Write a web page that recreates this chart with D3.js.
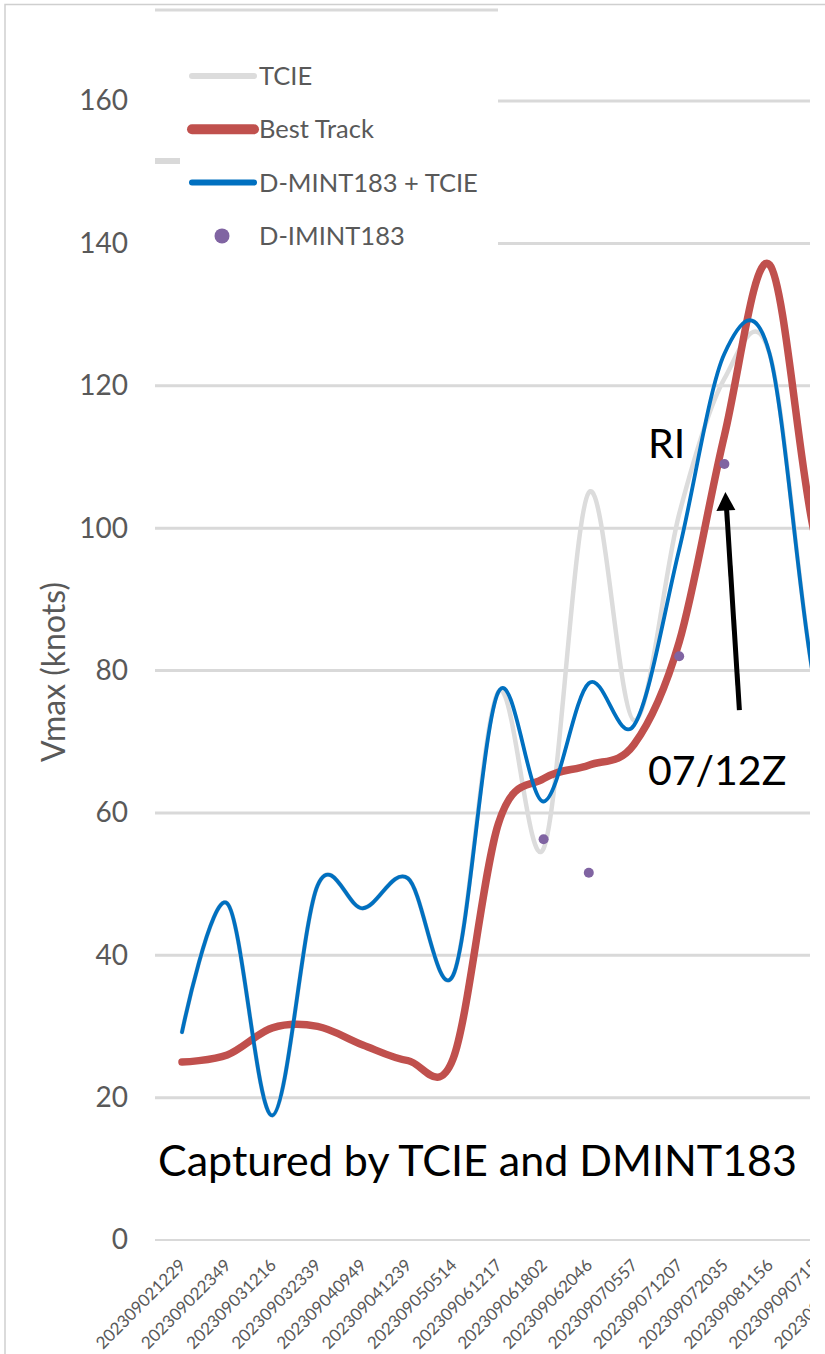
<!DOCTYPE html>
<html>
<head>
<meta charset="utf-8">
<script src="https://cdn.jsdelivr.net/npm/d3@7"></script>
<style>
  body { margin: 0; background: #fff; }
  svg { display: block; }
</style>
</head>
<body>
<svg id="chart" width="825" height="1354"></svg>
<script>
// Fix times (YYYYMMDDHHMM)
const categories = [
  "202309021229", "202309022349", "202309031216", "202309032339",
  "202309040949", "202309041239", "202309050514", "202309061217",
  "202309061802", "202309062046", "202309070557", "202309071207",
  "202309072035", "202309081156", "202309090715", "202309091910"
];

// Maximum sustained wind (knots)
const tcie      = [29.2, 47.3, 17.5, 49.8, 46.6, 50.8, 37.2, 77.0, 55.0, 105.0, 73.0, 102.0, 121.0, 124.5, 78.0, 62.0];
const bestTrack = [25.0, 26.0, 29.8, 30.0, 27.4, 25.2, 25.5, 58.5, 64.8, 66.7, 69.6, 84.0, 113.0, 137.0, 99.0, 85.0];
const dmintTcie = [29.2, 47.3, 17.5, 49.8, 46.6, 50.8, 37.2, 77.0, 61.6, 78.2, 72.3, 97.0, 124.5, 124.5, 78.0, 62.0];
const dimint    = [null, null, null, null, null, null, null, null, 56.3, 51.6, null, 82.0, 109.0, null, null, null];

const yTicks = [0, 20, 40, 60, 80, 100, 120, 140, 160];

const legendItems = [
  { name: "TCIE",             kind: "line", color: "#dcdcdc", width: 6 },
  { name: "Best Track",       kind: "line", color: "#c0504d", width: 10 },
  { name: "D-MINT183 + TCIE", kind: "line", color: "#0070c0", width: 6 },
  { name: "D-IMINT183",       kind: "dot",  color: "#8064a2" }
];

const FONT = "Lato, 'Open Sans', 'DejaVu Sans', sans-serif";
const TEXT_GREY = "#595959";
const GRID = "#d9d9d9";

const svg = d3.select("#chart");
svg.append("rect").attr("width", 825).attr("height", 1354).attr("fill", "#fff");

// Visible frame: the panel is cut off on the right
const clipRight = 810;
const plotLeft = 155;
svg.append("defs").append("clipPath").attr("id", "clip")
  .append("rect").attr("x", 0).attr("y", 0).attr("width", clipRight).attr("height", 1354);

const step = 45.2;
const x = d3.scalePoint()
  .domain(categories)
  .range([159.4, 159.4 + categories.length * step])
  .padding(0.5);

const y = d3.scaleLinear().domain([0, 160]).range([1240, 101]);

const plot = svg.append("g").attr("clip-path", "url(#clip)");

// Horizontal gridlines
plot.append("g")
  .selectAll("line")
  .data(yTicks)
  .join("line")
  .attr("x1", plotLeft)
  .attr("x2", clipRight + 20)
  .attr("y1", d => y(d))
  .attr("y2", d => y(d))
  .attr("stroke", GRID)
  .attr("stroke-width", d => d === 0 ? 2 : 3);

// Y axis tick labels
const yAxis = svg.append("g")
  .attr("transform", `translate(${plotLeft},0)`)
  .call(d3.axisLeft(y).tickValues(yTicks).tickSize(0).tickPadding(27));
yAxis.select(".domain").remove();
yAxis.selectAll("text")
  .attr("font-family", FONT)
  .attr("font-size", 28)
  .attr("fill", TEXT_GREY);

// Y axis title
svg.append("text")
  .attr("transform", `translate(65,672) rotate(-90)`)
  .attr("text-anchor", "middle")
  .attr("font-family", FONT)
  .attr("font-size", 32)
  .attr("fill", TEXT_GREY)
  .text("Vmax (knots)");

// X axis category labels (rotated)
const xAxis = plot.append("g")
  .attr("transform", `translate(0,${y(0)})`)
  .call(d3.axisBottom(x).tickSize(0));
xAxis.select(".domain").remove();
xAxis.selectAll("text")
  .attr("font-family", FONT)
  .attr("font-size", 17)
  .attr("fill", TEXT_GREY)
  .attr("text-anchor", "end")
  .attr("x", 0)
  .attr("y", 0)
  .attr("dy", "0.35em")
  .attr("transform", "translate(0,22) rotate(-45)");

// Series lines (smoothed)
const line = d3.line()
  .defined(d => d[1] != null)
  .x(d => x(d[0]))
  .y(d => y(d[1]))
  .curve(d3.curveCardinal);

const pairs = vals => categories.map((c, i) => [c, vals[i]]);

plot.append("path")
  .attr("d", line(pairs(tcie)))
  .attr("fill", "none")
  .attr("stroke", "#dcdcdc")
  .attr("stroke-width", 4.5)
  .attr("stroke-linecap", "round");

plot.append("path")
  .attr("d", line(pairs(bestTrack)))
  .attr("fill", "none")
  .attr("stroke", "#c0504d")
  .attr("stroke-width", 7.5)
  .attr("stroke-linecap", "round");

plot.append("path")
  .attr("d", line(pairs(dmintTcie)))
  .attr("fill", "none")
  .attr("stroke", "#0070c0")
  .attr("stroke-width", 3.8)
  .attr("stroke-linecap", "round");

plot.append("g")
  .selectAll("circle")
  .data(pairs(dimint).filter(d => d[1] != null))
  .join("circle")
  .attr("cx", d => x(d[0]))
  .attr("cy", d => y(d[1]))
  .attr("r", 5)
  .attr("fill", "#8064a2");

// Legend panel
const legend = svg.append("g");
legend.append("rect")
  .attr("x", 150).attr("y", 18).attr("width", 348).attr("height", 246)
  .attr("fill", "#fff");
legend.append("line")
  .attr("x1", plotLeft).attr("x2", 498).attr("y1", 10).attr("y2", 10)
  .attr("stroke", GRID).attr("stroke-width", 3);
legend.append("line")
  .attr("x1", plotLeft).attr("x2", 180).attr("y1", 161).attr("y2", 161)
  .attr("stroke", GRID).attr("stroke-width", 6);

const rows = legend.selectAll("g.item")
  .data(legendItems)
  .join("g")
  .attr("class", "item")
  .attr("transform", (d, i) => `translate(0,${76 + i * 53.3})`);

rows.filter(d => d.kind === "line").append("line")
  .attr("x1", 192).attr("x2", 254)
  .attr("stroke", d => d.color)
  .attr("stroke-width", d => d.width)
  .attr("stroke-linecap", "round");

rows.filter(d => d.kind === "dot").append("circle")
  .attr("cx", 222).attr("r", 7.5)
  .attr("fill", d => d.color);

rows.append("text")
  .attr("x", 259)
  .attr("dy", "0.36em")
  .attr("font-family", FONT)
  .attr("font-size", 25.5)
  .attr("fill", TEXT_GREY)
  .text(d => d.name);

// Annotations
const ann = svg.append("g");
const riCat = "202309072035";
const tipX = x(riCat) + 1;
const tipY = y(109) + 28;
ann.append("line")
  .attr("x1", tipX + 14).attr("y1", tipY + 218)
  .attr("x2", tipX + 1).attr("y2", tipY + 14)
  .attr("stroke", "#000").attr("stroke-width", 5);
ann.append("path")
  .attr("d", `M${tipX},${tipY} L${tipX - 9},${tipY + 19} L${tipX + 10},${tipY + 18} Z`)
  .attr("fill", "#000");

ann.append("text")
  .attr("x", 648).attr("y", 458)
  .attr("font-family", FONT).attr("font-size", 41).attr("fill", "#000")
  .text("RI");
ann.append("text")
  .attr("x", 648).attr("y", 785)
  .attr("font-family", FONT).attr("font-size", 41).attr("fill", "#000")
  .text("07/12Z");
ann.append("text")
  .attr("x", 158).attr("y", 1176)
  .attr("font-family", FONT).attr("font-size", 43).attr("fill", "#000")
  .text("Captured by TCIE and DMINT183");

// Outer frame edges
svg.append("path")
  .attr("d", "M5,1354 V4.5 H825")
  .attr("fill", "none")
  .attr("stroke", "#cfcfcf")
  .attr("stroke-width", 1.5);
</script>
</body>
</html>
